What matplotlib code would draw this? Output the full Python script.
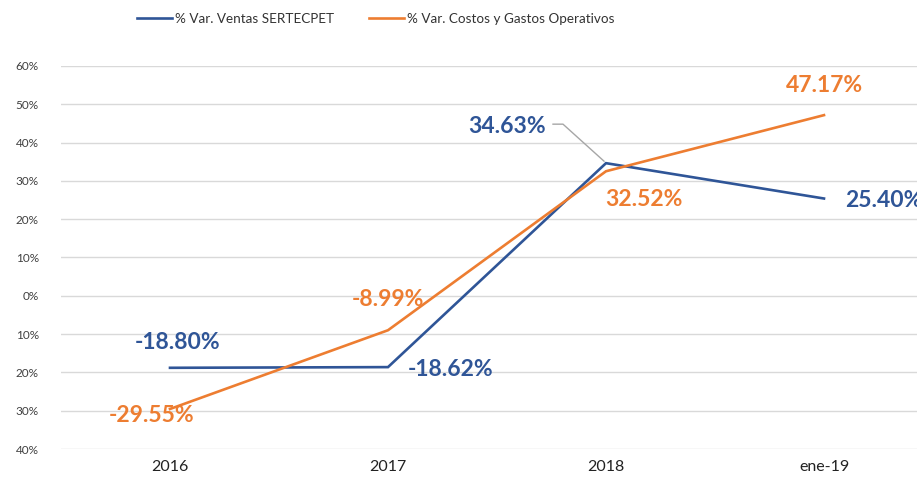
import matplotlib
matplotlib.use("Agg")
import matplotlib.pyplot as plt
from matplotlib.ticker import FuncFormatter

categories = ["2016", "2017", "2018", "ene-19"]
ventas = [-18.80, -18.62, 34.63, 25.40]
costos = [-29.55, -8.99, 32.52, 47.17]
ventas_name = "% Var. Ventas SERTECPET"
costos_name = "% Var. Costos y Gastos Operativos"

BLUE = "#2F5597"
ORANGE = "#ED7D31"
plt.rcParams['font.family'] = ['Lato', 'DejaVu Sans']

fig = plt.figure(figsize=(9.17, 4.83), dpi=100)
ax = fig.add_axes([61/917, 34/483, 872/917, 383/483])
x = list(range(len(categories)))
lb, = ax.plot(x, ventas, color=BLUE, lw=1.9, solid_joinstyle='miter')
lo, = ax.plot(x, costos, color=ORANGE, lw=1.9, solid_joinstyle='miter')

ax.set_xlim(-0.5, 3.5)
ax.set_ylim(-40, 60)
ax.set_yticks(range(-40, 61, 10))
ax.yaxis.set_major_formatter(FuncFormatter(lambda v, p: f"{abs(int(round(v)))}%"))
ax.set_xticks(x)
ax.set_xticklabels(categories)
ax.tick_params(axis='y', length=0, labelsize=8.5, labelcolor="#404040", pad=16)
ax.tick_params(axis='x', length=0, labelsize=11.5, labelcolor="#222222", pad=8)
for s in ax.spines.values():
    s.set_visible(False)
ax.grid(axis='y', color="#D9D9D9", lw=1)
ax.set_axisbelow(True)

fs = 16.5
def lab(xi, yi, val, color, dx, dy, ha='center'):
    ax.annotate(f"{val:.2f}%", (xi, yi), xytext=(dx, dy), textcoords='offset pixels',
                ha=ha, va='center', color=color, fontsize=fs, fontweight='bold')

lab(0, ventas[0], ventas[0], BLUE, 8, 25)
lab(1, ventas[1], ventas[1], BLUE, 20, -2, ha='left')
lab(2, ventas[2], ventas[2], BLUE, -60, 37, ha='right')
lab(3, ventas[3], ventas[3], BLUE, 21, -2, ha='left')
lab(0, costos[0], costos[0], ORANGE, -18, -7)
lab(1, costos[1], costos[1], ORANGE, 0, 31)
lab(2, costos[2], costos[2], ORANGE, 38, -28)
lab(3, costos[3], costos[3], ORANGE, 0, 30)

# leader line for 34.63%
px, py = ax.transData.transform((2, ventas[2]))
inv = ax.transData.inverted()
pts = [(px - 53, py + 39), (px - 43, py + 39), (px - 2, py + 2)]
dpts = [inv.transform(p) for p in pts]
ax.plot([p[0] for p in dpts], [p[1] for p in dpts], color="#A6A6A6", lw=1, zorder=1)

leg = fig.legend([lb, lo], [ventas_name, costos_name], loc='center left',
                 bbox_to_anchor=(137/917, 1 - 19/483), borderaxespad=0, borderpad=0,
                 ncol=2, frameon=False, fontsize=9.7, handlelength=2.6, handletextpad=0.2,
                 columnspacing=2.6)
for t in leg.get_texts():
    t.set_color("#333333")

fig.savefig("out.png", dpi=100)
